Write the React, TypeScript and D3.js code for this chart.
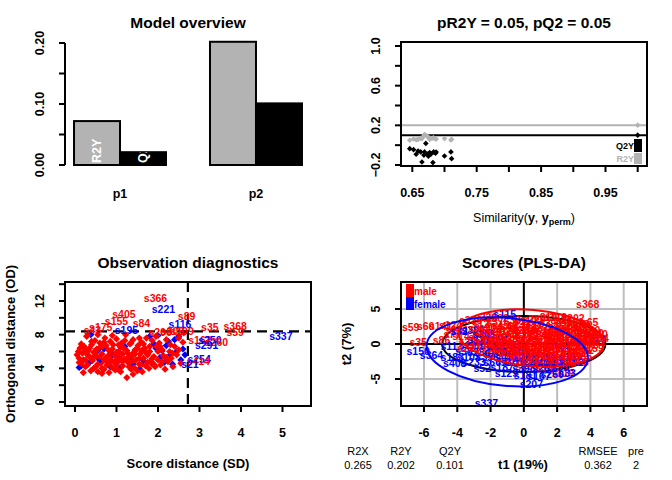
import React from "react";
import * as d3 from "d3";

const FONT = "'Liberation Sans', Arial, Helvetica, sans-serif";
const RED = "#FF0000";
const BLUE = "#0000FF";
const GRAY = "#B3B3B3";
const GRID = "#BEBEBE";

// ---------- Model overview ----------
const components = ["p1", "p2"];
const r2yByComp = [0.072, 0.202];
const q2yByComp = [0.021, 0.101];
const overviewTicks = [0, 0.05, 0.1, 0.15, 0.2];
const overviewLabels = [0, 0.1, 0.2];

// ---------- Permutation test ----------
const permSim = [0.646, 0.652, 0.656, 0.663, 0.671, 0.665, 0.669, 0.674, 0.677, 0.682, 0.683, 0.687, 0.700, 0.710, 0.711, 0.668, 0.679, 0.686, 0.659, 0.675];
const permR2Y = [0.05, 0.062, 0.055, 0.07, 0.1, 0.066, 0.108, 0.084, 0.058, 0.07, 0.075, 0.061, 0.066, 0.052, 0.06, 0.094, 0.07, 0.065, 0.058, 0.08];
const permQ2Y = [-0.035, -0.045, -0.092, -0.068, 0.018, -0.17, -0.068, -0.09, -0.075, -0.176, -0.068, -0.07, -0.109, -0.068, -0.136, -0.1, -0.09, -0.082, -0.06, -0.112];
const modelSim = 1.0;
const modelR2Y = 0.202;
const modelQ2Y = 0.101;
const permTitle = "pR2Y = 0.05, pQ2 = 0.05";
const permXTicks = [0.65, 0.7, 0.75, 0.8, 0.85, 0.9, 0.95, 1.0];
const permXLabels = [0.65, 0.75, 0.85, 0.95];
const permYTicks = [-0.2, 0, 0.2, 0.4, 0.6, 0.8, 1.0];
const permYLabels = [-0.2, 0.2, 0.6, 1.0];

// ---------- Observation diagnostics (SD, OD) ----------
const diagMale: [number, number][] = [
  [0.05, 5.6], [0.08, 6.0], [0.1, 5.2], [0.12, 6.4], [0.15, 4.6], [0.18, 5.8], [0.2, 3.5], [0.22, 6.6], [0.25, 5.0], [0.28, 7.8],
  [0.3, 4.4], [0.32, 6.1], [0.35, 5.4], [0.38, 3.7], [0.4, 6.8], [0.42, 4.9], [0.45, 5.9], [0.48, 7.3], [0.5, 4.2], [0.52, 6.3],
  [0.55, 3.6], [0.57, 5.1], [0.6, 7.0], [0.62, 4.6], [0.65, 5.7], [0.67, 6.6], [0.7, 3.9], [0.72, 7.6], [0.75, 5.3], [0.77, 4.4],
  [0.8, 6.2], [0.82, 3.5], [0.85, 7.2], [0.87, 5.0], [0.9, 4.1], [0.92, 6.8], [0.95, 5.6], [0.97, 3.8], [1.0, 7.5], [1.02, 4.7],
  [1.05, 6.0], [1.07, 5.3], [1.1, 3.6], [1.12, 7.0], [1.15, 4.3], [1.17, 6.4], [1.2, 5.1], [1.22, 8.0], [1.25, 2.9], [1.27, 5.8],
  [1.3, 4.6], [1.32, 6.9], [1.35, 3.9], [1.37, 5.4], [1.4, 7.4], [1.42, 4.1], [1.45, 6.2], [1.47, 5.0], [1.5, 3.7], [1.52, 6.7],
  [1.55, 4.5], [1.57, 5.7], [1.6, 7.1], [1.62, 3.6], [1.65, 5.2], [1.68, 6.4], [1.7, 4.3], [1.72, 7.6], [1.75, 5.6], [1.78, 4.0],
  [1.8, 6.0], [1.83, 4.8], [1.86, 7.3], [1.9, 5.4], [1.93, 4.2], [1.96, 6.6], [2.0, 5.0], [2.03, 7.0], [2.06, 4.4], [2.1, 6.2],
  [2.13, 5.5], [2.17, 3.9], [2.2, 7.4], [2.24, 4.8], [2.28, 6.0], [2.32, 5.2], [2.36, 4.2], [2.4, 6.6], [2.45, 5.6], [2.5, 7.6],
  [2.55, 4.6], [2.6, 7.1], [2.62, 8.2], [0.3, 7.9], [0.55, 8.0], [0.15, 6.9], [0.9, 7.9], [1.4, 3.3], [0.65, 3.4], [1.0, 4.4],
  [0.45, 4.0], [1.15, 5.7], [0.75, 6.7], [1.6, 6.1], [1.25, 4.9], [0.35, 6.4], [0.85, 4.8], [1.95, 7.8], [1.05, 3.8], [0.6, 5.4],
  [0.2, 5.0], [0.25, 6.2], [0.3, 5.6], [0.4, 5.2], [0.5, 6.0], [0.55, 4.5], [0.6, 6.5], [0.7, 5.0], [0.7, 7.1], [0.8, 5.5],
  [0.8, 4.6], [0.9, 6.3], [0.95, 4.7], [1.0, 5.9], [1.05, 6.8], [1.1, 5.0], [1.15, 4.8], [1.2, 7.3], [1.25, 6.1], [1.3, 5.4],
  [1.35, 7.0], [1.4, 4.9], [1.45, 5.7], [1.5, 6.4], [1.55, 5.2], [1.6, 4.4], [1.65, 6.9], [1.7, 5.9], [1.75, 4.7], [1.8, 6.6],
  [1.85, 5.1], [1.9, 4.5], [2.0, 6.0], [2.05, 6.6], [2.1, 4.8], [2.2, 5.3], [2.3, 6.8], [2.35, 5.8], [2.5, 6.2], [0.1, 4.7],
  [0.4, 7.2], [0.65, 4.0], [0.85, 6.0], [1.1, 6.5], [1.3, 4.2], [1.55, 7.6], [0.25, 4.2], [0.5, 5.5], [1.0, 5.3], [1.4, 5.8],
];
const diagFemale: [number, number][] = [
  [0.1, 4.1], [0.15, 4.3], [0.35, 4.7], [0.38, 8.0], [0.45, 5.3], [0.55, 6.1], [0.7, 6.3], [0.75, 4.9], [0.85, 4.2], [0.9, 5.6],
  [1.0, 4.9], [1.05, 6.0], [1.1, 4.1], [1.2, 6.6], [1.3, 5.1], [1.4, 4.5], [1.45, 6.1], [1.55, 3.9], [1.65, 4.9], [1.75, 5.8],
  [1.8, 7.8], [1.85, 4.6], [1.95, 6.4], [2.0, 7.9], [2.05, 5.3], [2.15, 4.7], [2.2, 6.7], [2.25, 7.2], [2.3, 5.6], [2.35, 4.5],
  [2.4, 7.4], [2.45, 6.0], [2.5, 7.8], [2.55, 5.0], [2.6, 6.3], [2.65, 5.6], [1.9, 6.9], [0.6, 5.0], [2.1, 6.1],
];
const diagLabels: [string, number, number, string][] = [
  ["s366", 1.94, 12.4, "m"], ["s221", 2.13, 11.1, "f"], ["s405", 1.18, 10.45, "m"], ["s155", 1.0, 9.65, "m"],
  ["s84", 1.6, 9.35, "m"], ["s89", 2.69, 10.25, "m"], ["s116", 2.53, 9.26, "f"], ["s195", 1.24, 8.55, "f"],
  ["s43", 0.42, 8.6, "m"], ["s175", 0.62, 8.9, "m"], ["s206", 2.05, 8.3, "m"], ["s309", 2.35, 8.45, "m"],
  ["s109", 2.58, 8.4, "m"], ["s35", 3.25, 8.87, "m"], ["s368", 3.86, 9.0, "m"], ["s59", 3.86, 8.35, "m"],
  ["s337", 4.96, 7.9, "f"], ["s162", 3.01, 7.36, "m"], ["s250", 3.25, 7.36, "f"], ["s260", 3.41, 7.09, "m"],
  ["s291", 3.17, 6.77, "f"], ["s254", 2.99, 5.1, "f"], ["s414", 2.97, 4.86, "m"], ["s21", 2.77, 4.5, "f"],
];
const sdCutoff = 2.72;
const odCutoff = 8.4;
const sdTicks = [0, 1, 2, 3, 4, 5];
const odTicks = [0, 2, 4, 6, 8, 10, 12, 14];
const odLabels = [0, 4, 8, 12];

// ---------- Scores (PLS-DA) ----------
const maleScores: [string, number, number][] = [
  ["s368", 3.84, 5.7], ["s59", -6.8, 2.4], ["s60", -5.9, 2.55], ["s141", -5.0, 2.6], ["s124", -4.4, 2.7], ["s35", -6.35, 0.25],
  ["s86", -4.95, 0.6], ["s202", 2.95, 3.65], ["s65", 3.95, 3.2], ["s240", 4.35, 1.4],
  ["s329", -3.2, 3.5], ["s226", -2.3, 3.8], ["s302", -1.6, 3.7], ["s38", -0.7, 3.4], ["s229", 0.6, 3.6], ["s219", 1.3, 3.9],
  ["s319", 1.9, 3.85], ["s96", 2.4, 3.4], ["s70", 3.4, 2.9], ["s101", -4.0, 2.0], ["s147", -3.6, 1.1], ["s77", -4.3, 1.4],
  ["s12", -2.6, 2.85], ["s45", -1.4, 2.7], ["s231", -0.3, 2.9], ["s17", 0.6, 2.75], ["s390", 1.6, 2.95], ["s266", 2.6, 2.7], ["s53", 3.5, 2.6],
  ["s8", -3.0, 2.25], ["s211", -2.0, 2.1], ["s98", -0.9, 2.3], ["s156", 0.2, 2.15], ["s273", 1.1, 2.3], ["s31", 2.0, 2.05], ["s344", 3.0, 2.2], ["s180", 3.9, 2.0],
  ["s67", -2.4, 1.55], ["s303", -1.5, 1.7], ["s122", -0.5, 1.5], ["s6", 0.5, 1.65], ["s259", 1.4, 1.55], ["s88", 2.3, 1.7], ["s371", 3.2, 1.5], ["s140", 4.1, 1.6],
  ["s25", -2.8, 1.0], ["s190", -1.9, 0.9], ["s314", -1.0, 1.05], ["s72", 0.0, 0.95], ["s235", 0.9, 1.1], ["s48", 1.8, 0.9], ["s397", 2.7, 1.0], ["s113", 3.6, 1.05], ["s284", 4.4, 0.85],
  ["s160", -2.2, 0.45], ["s9", -1.3, 0.35], ["s278", -0.3, 0.5], ["s55", 0.6, 0.3], ["s212", 1.5, 0.45], ["s336", 2.4, 0.35], ["s94", 3.3, 0.5], ["s402", 4.2, 0.3],
  ["s137", -2.6, -0.15], ["s41", -1.7, -0.25], ["s255", -0.8, -0.1], ["s19", 0.2, -0.3], ["s383", 1.1, -0.15], ["s63", 2.0, -0.25], ["s298", 2.9, -0.1], ["s170", 3.8, -0.2],
  ["s29", -2.0, -0.85], ["s348", -1.1, -0.75], ["s105", -0.1, -0.9], ["s214", 0.8, -0.7], ["s57", 1.7, -0.85], ["s392", 2.6, -0.75], ["s132", 3.5, -0.9],
  ["s244", -1.6, -1.35], ["s81", -0.6, -1.5], ["s326", 0.4, -1.4], ["s15", 1.3, -1.3], ["s199", 2.2, -1.45], ["s361", 3.1, -1.35],
  ["s74", -1.0, -2.05], ["s287", 0.0, -1.95], ["s143", 1.0, -2.1], ["s50", 1.9, -2.0], ["s309", 2.8, -1.9],
  ["s118", -0.5, -2.6], ["s246", 0.5, -2.7], ["s36", 1.4, -2.55], ["s377", 2.4, -2.65], ["s165", 3.2, -2.5],
  ["s209", 0.2, -3.2], ["s91", 1.2, -3.3], ["s119", 2.35, -4.2], ["s270", 2.1, -3.15],
  ["s3", -1.9, 3.2], ["s110", 0.1, 3.3], ["s350", 2.9, 3.2], ["s27", -3.4, 0.3], ["s223", -3.3, -0.5],
  ["s204", -2.0, 2.5], ["s46", -0.9, 2.55], ["s313", 0.1, 2.45], ["s78", 1.1, 2.5], ["s252", 2.1, 2.55], ["s389", 3.1, 2.45],
  ["s2", -2.7, 1.9], ["s134", -1.0, 1.85], ["s281", 0.0, 1.95], ["s61", 0.9, 1.9], ["s197", 1.9, 1.85], ["s340", 2.8, 1.95], ["s93", 3.7, 1.9],
  ["s217", -2.0, 1.3], ["s54", -0.9, 1.25], ["s372", 0.2, 1.35], ["s148", 1.0, 1.3], ["s23", 1.9, 1.25], ["s305", 2.8, 1.35], ["s158", 3.8, 1.3],
  ["s83", -1.7, 0.7], ["s262", -0.7, 0.65], ["s39", 0.3, 0.75], ["s186", 1.2, 0.7], ["s327", 2.1, 0.65], ["s107", 3.0, 0.75], ["s241", 3.9, 0.7],
  ["s16", -1.9, 0.1], ["s293", -0.9, 0.05], ["s125", 0.1, 0.15], ["s68", 1.0, 0.1], ["s357", 1.9, 0.05], ["s176", 2.8, 0.15], ["s44", 3.6, 0.1],
  ["s239", -1.3, -0.5], ["s97", -0.3, -0.55], ["s318", 0.6, -0.45], ["s142", 1.5, -0.5], ["s26", 2.4, -0.55], ["s271", 3.3, -0.45], ["s159", 4.1, -0.5],
  ["s85", -0.9, -1.1], ["s330", 0.1, -1.15], ["s111", 1.0, -1.05], ["s51", 1.9, -1.1], ["s296", 2.9, -1.15],
  ["s171", -0.2, -1.7], ["s37", 0.8, -1.75], ["s264", 1.7, -1.65], ["s102", 2.6, -1.7], ["s385", 3.4, -1.75],
  ["s64", 0.3, -2.3], ["s228", 1.3, -2.35], ["s146", 2.2, -2.25], ["s7", 3.0, -2.3],
];
const femaleScores: [string, number, number][] = [
  ["s150", -6.35, -0.95], ["s364", -5.55, -1.55], ["s337", -2.25, -8.4], ["s207", 0.45, -5.7], ["s240", 4.25, 0.75],
  ["s115", -1.15, 4.3], ["s129", -1.05, -4.2], ["s408", -4.15, -2.7], ["s380", -3.05, 2.0], ["s32", -3.9, 1.8],
  ["s183", -4.3, -1.8], ["s11", -4.5, -0.3], ["s58", -3.6, -1.0], ["s365", -2.4, 1.45], ["s175", -1.6, 0.6], ["s221", -2.7, 0.7],
  ["s195", -3.2, -0.2], ["s42", -2.1, -0.35], ["s316", -1.2, -0.15], ["s71", -0.3, -0.5],
  ["s254", -2.7, -1.1], ["s130", -1.7, -1.2], ["s286", -0.7, -1.05], ["s24", 0.5, -1.3], ["s21", 2.3, -0.2],
  ["s103", -3.3, -1.8], ["s356", -2.2, -1.9], ["s47", -1.2, -1.85], ["s168", 0.1, -1.8], ["s291", 1.3, -1.9], ["s75", 2.6, -1.8],
  ["s233", -3.0, -2.6], ["s66", -1.9, -2.6], ["s301", -0.7, -2.55], ["s250", 0.6, -2.65], ["s14", 1.8, -2.6], ["s342", 2.9, -2.5],
  ["s52", -2.5, -3.4], ["s187", -1.3, -3.35], ["s398", 0.0, -3.45], ["s261", 1.2, -3.4], ["s99", 2.2, -3.35],
  ["s181", 0.1, -4.45], ["s167", 0.9, -4.5], ["s260", 1.7, -4.3], ["s33", 2.6, -4.1],
];
const ellipses: { name: string; cx: number; cy: number; rx: number; ry: number; angle: number; color: string }[] = [
  { name: "all", cx: 0, cy: 0, rx: 4.9, ry: 4.0, angle: 0, color: "#000000" },
  { name: "male", cx: 0.44, cy: 0.86, rx: 4.38, ry: 4.0, angle: 5, color: RED },
  { name: "female", cx: -1.0, cy: -1.14, rx: 4.86, ry: 4.85, angle: 5, color: BLUE },
];
const scoreXTicks = [-6, -4, -2, 0, 2, 4, 6];
const scoreYTicks = [-5, 0, 5];
const classNames = ["male", "female"];
const summaryNames = ["R2X", "R2Y", "Q2Y", "RMSEE", "pre"];
const summaryValues = ["0.265", "0.202", "0.101", "0.362", "2"];

const diamond = (r: number) => `M0,${-r}L${r},0L0,${r}L${-r},0Z`;
const fmt2 = d3.format(".2f");
const fmt1 = d3.format(".1f");

export default function App() {
  const p1x = d3.scaleBand<string>().domain(components).range([52, 324]).paddingInner(0.3235).paddingOuter(0.162);
  const p1y = d3.scaleLinear().domain([0, 0.2]).range([165, 43]);
  const bw = p1x.bandwidth() / 2;

  const B2 = { l: 401, r: 647, t: 42, b: 166 };
  const p2x = d3.scaleLinear().domain([0.65, 1.0]).range([412.3, 637.7]);
  const p2y = d3.scaleLinear().domain([-0.2, 1.0]).range([165, 46]);

  const B3 = { l: 65, r: 311, t: 282, b: 406 };
  const p3x = d3.scaleLinear().domain([0, 5]).range([75, 282.5]);
  const p3y = d3.scaleLinear().domain([0, 12]).range([402, 301]);

  const B4 = { l: 401, r: 647, t: 282, b: 406 };
  const p4x = d3.scaleLinear().domain([-6, 6]).range([424, 623.7]);
  const p4y = d3.scaleLinear().domain([-5, 5]).range([379, 309]);

  const mixedDiag: { p: [number, number]; c: string }[] = [];
  const n = Math.max(diagMale.length, diagFemale.length);
  for (let i = 0; i < n; i++) {
    if (i < diagFemale.length) mixedDiag.push({ p: diagFemale[i], c: BLUE });
    if (i < diagMale.length) mixedDiag.push({ p: diagMale[i], c: RED });
  }
  const mixedScores: { s: [string, number, number]; c: string }[] = [];
  const nf = femaleScores.length;
  const nm = maleScores.length;
  const stepM = nm / nf;
  let mi = 0;
  for (let i = 0; i < nf; i++) {
    mixedScores.push({ s: femaleScores[i], c: BLUE });
    const end = Math.round((i + 1) * stepM);
    for (; mi < end && mi < nm; mi++) mixedScores.push({ s: maleScores[mi], c: RED });
  }
  for (; mi < nm; mi++) mixedScores.push({ s: maleScores[mi], c: RED });

  const titleStyle = { fontFamily: FONT, fontWeight: "bold" as const, fontSize: 15.5 };
  const tickStyle = { fontFamily: FONT, fontWeight: "bold" as const, fontSize: 12.5 };
  const labStyle = { fontFamily: FONT, fontWeight: "bold" as const, fontSize: 13 };

  const Box = ({ b }: { b: { l: number; r: number; t: number; b: number } }) => (
    <rect x={b.l} y={b.t} width={b.r - b.l} height={b.b - b.t} fill="none" stroke="#000" strokeWidth={2} />
  );

  return (
    <svg width={672} height={480} style={{ position: "absolute", left: 0, top: 0, background: "#fff" }}>
      <rect x={0} y={0} width={672} height={480} fill="#fff" />
      <defs>
        {components.map((c, i) => (
          <React.Fragment key={c}>
            <clipPath id={`clipR${i}`}>
              <rect x={p1x(c)!} y={p1y(r2yByComp[i])} width={bw} height={p1y(0) - p1y(r2yByComp[i])} />
            </clipPath>
            <clipPath id={`clipQ${i}`}>
              <rect x={p1x(c)! + bw} y={p1y(q2yByComp[i])} width={bw} height={p1y(0) - p1y(q2yByComp[i])} />
            </clipPath>
          </React.Fragment>
        ))}
      </defs>

      {/* Panel 1: Model overview */}
      <text x={188} y={27.5} textAnchor="middle" style={titleStyle}>Model overview</text>
      <line x1={65} x2={65} y1={p1y(0.2)} y2={p1y(0)} stroke="#000" strokeWidth={2} />
      {overviewTicks.map((t) => (
        <line key={t} x1={59} x2={65} y1={p1y(t)} y2={p1y(t)} stroke="#000" strokeWidth={2} />
      ))}
      {overviewLabels.map((t) => (
        <text key={t} transform={`translate(40,${p1y(t)}) rotate(-90)`} textAnchor="middle" dominantBaseline="central" style={tickStyle}>
          {fmt2(t)}
        </text>
      ))}
      {components.map((c, i) => (
        <g key={c}>
          <rect x={p1x(c)!} y={p1y(r2yByComp[i])} width={bw} height={p1y(0) - p1y(r2yByComp[i])} fill={GRAY} stroke="#000" strokeWidth={2} />
          <rect x={p1x(c)! + bw} y={p1y(q2yByComp[i])} width={bw} height={p1y(0) - p1y(q2yByComp[i])} fill="#000" stroke="#000" strokeWidth={2} />
          <text x={p1x(c)! + bw} y={197.5} textAnchor="middle" style={tickStyle}>{c}</text>
          {i === 0 && (
            <>
              <g clipPath={`url(#clipR${i})`}>
                <text transform={`translate(${p1x(c)! + bw / 2},${p1y(0) - 2}) rotate(-90)`} textAnchor="start" dominantBaseline="central" fill="#fff" style={tickStyle}>R2Y</text>
              </g>
              <g clipPath={`url(#clipQ${i})`}>
                <text transform={`translate(${p1x(c)! + bw * 1.5},${p1y(0) - 2}) rotate(-90)`} textAnchor="start" dominantBaseline="central" fill="#fff" style={tickStyle}>Q2Y</text>
              </g>
            </>
          )}
        </g>
      ))}

      {/* Panel 2: permutation */}
      <text x={524} y={27.5} textAnchor="middle" style={titleStyle}>{permTitle}</text>
      <line x1={B2.l} x2={B2.r} y1={p2y(modelR2Y)} y2={p2y(modelR2Y)} stroke={GRAY} strokeWidth={2} />
      <line x1={B2.l} x2={B2.r} y1={p2y(modelQ2Y)} y2={p2y(modelQ2Y)} stroke="#000" strokeWidth={2} />
      {permSim.map((s, i) => (
        <path key={`r${i}`} d={diamond(2.8)} transform={`translate(${p2x(s)},${p2y(permR2Y[i])})`} fill={GRAY} />
      ))}
      {permSim.map((s, i) => (
        <path key={`q${i}`} d={diamond(2.8)} transform={`translate(${p2x(s)},${p2y(permQ2Y[i])})`} fill="#000" />
      ))}
      <path d={diamond(2.8)} transform={`translate(${p2x(modelSim)},${p2y(modelR2Y)})`} fill={GRAY} />
      <path d={diamond(2.8)} transform={`translate(${p2x(modelSim)},${p2y(modelQ2Y)})`} fill="#000" />
      <rect x={634} y={139} width={8} height={13} fill="#000" />
      <rect x={634} y={153} width={8} height={11} fill={GRAY} />
      <text x={634} y={146} textAnchor="end" dominantBaseline="central" style={{ fontFamily: FONT, fontWeight: "bold", fontSize: 9 }} fill="#000">Q2Y</text>
      <text x={634} y={159} textAnchor="end" dominantBaseline="central" style={{ fontFamily: FONT, fontWeight: "bold", fontSize: 9 }} fill={GRAY}>R2Y</text>
      <Box b={B2} />
      {permXTicks.map((t) => (
        <line key={t} x1={p2x(t)} x2={p2x(t)} y1={B2.b} y2={B2.b + 6} stroke="#000" strokeWidth={2} />
      ))}
      {permXLabels.map((t) => (
        <text key={t} x={p2x(t)} y={196.5} textAnchor="middle" style={tickStyle}>{fmt2(t)}</text>
      ))}
      {permYTicks.map((t) => (
        <line key={t} x1={B2.l - 6} x2={B2.l} y1={p2y(t)} y2={p2y(t)} stroke="#000" strokeWidth={2} />
      ))}
      {permYLabels.map((t) => (
        <text key={t} transform={`translate(376,${p2y(t)}) rotate(-90)`} textAnchor="middle" dominantBaseline="central" style={tickStyle}>{fmt1(t)}</text>
      ))}
      <text x={524} y={222} textAnchor="middle" style={{ fontFamily: FONT, fontSize: 12.5 }}>
        Similarity(<tspan fontWeight="bold">y</tspan>, <tspan fontWeight="bold">y</tspan>
        <tspan fontWeight="bold" fontSize={9} dy={3}>perm</tspan>
        <tspan dy={-3}>)</tspan>
      </text>

      {/* Panel 3: diagnostics */}
      <text x={188} y={267.5} textAnchor="middle" style={titleStyle}>Observation diagnostics</text>
      {mixedDiag.map((d, i) => (
        <path key={i} d={diamond(3.6)} transform={`translate(${p3x(d.p[0])},${p3y(d.p[1])})`} fill={d.c} />
      ))}
      <line x1={p3x(sdCutoff)} x2={p3x(sdCutoff)} y1={B3.t} y2={B3.b} stroke="#000" strokeWidth={2.2} strokeDasharray="10,6" />
      <line x1={B3.l} x2={B3.r} y1={p3y(odCutoff)} y2={p3y(odCutoff)} stroke="#000" strokeWidth={2.2} strokeDasharray="10,6" />
      {diagLabels.map(([nm2, x, y, c], i) => (
        <text key={i} x={p3x(x)} y={p3y(y)} textAnchor="middle" dominantBaseline="central" fill={c === "m" ? RED : BLUE} style={{ fontFamily: FONT, fontWeight: "bold", fontSize: 10.5 }}>{nm2}</text>
      ))}
      <Box b={B3} />
      {sdTicks.map((t) => (
        <line key={t} x1={p3x(t)} x2={p3x(t)} y1={B3.b} y2={B3.b + 6} stroke="#000" strokeWidth={2} />
      ))}
      {sdTicks.map((t) => (
        <text key={t} x={p3x(t)} y={437} textAnchor="middle" style={tickStyle}>{t}</text>
      ))}
      {odTicks.map((t) => (
        <line key={t} x1={B3.l - 6} x2={B3.l} y1={p3y(t)} y2={p3y(t)} stroke="#000" strokeWidth={2} />
      ))}
      {odLabels.map((t) => (
        <text key={t} transform={`translate(40,${p3y(t)}) rotate(-90)`} textAnchor="middle" dominantBaseline="central" style={tickStyle}>{t}</text>
      ))}
      <text x={188} y={467.5} textAnchor="middle" style={labStyle}>Score distance (SD)</text>
      <text transform={`translate(10,344) rotate(-90)`} textAnchor="middle" dominantBaseline="central" style={labStyle}>Orthogonal distance (OD)</text>

      {/* Panel 4: scores */}
      <text x={524} y={267.5} textAnchor="middle" style={titleStyle}>Scores (PLS-DA)</text>
      {scoreXTicks.filter((t) => t !== 0).map((t) => (
        <line key={`gx${t}`} x1={p4x(t)} x2={p4x(t)} y1={B4.t} y2={B4.b} stroke={GRID} strokeWidth={2} />
      ))}
      {scoreYTicks.filter((t) => t !== 0).map((t) => (
        <line key={`gy${t}`} x1={B4.l} x2={B4.r} y1={p4y(t)} y2={p4y(t)} stroke={GRID} strokeWidth={2} />
      ))}
      <line x1={p4x(0)} x2={p4x(0)} y1={B4.t} y2={B4.b} stroke="#000" strokeWidth={2} />
      <line x1={B4.l} x2={B4.r} y1={p4y(0)} y2={p4y(0)} stroke="#000" strokeWidth={2} />
      {ellipses.filter((e) => e.name === "all").map((e) => (
        <ellipse key={e.name} cx={0} cy={0} rx={e.rx * (p4x(1) - p4x(0))} ry={e.ry * (p4y(0) - p4y(1))}
          transform={`translate(${p4x(e.cx)},${p4y(e.cy)}) rotate(${e.angle})`} fill="none" stroke={e.color} strokeWidth={2} />
      ))}
      {mixedScores.map(({ s: [nm2, x, y], c }, i) => (
        <text key={`s${i}`} x={p4x(x)} y={p4y(y)} textAnchor="middle" dominantBaseline="central" fill={c} style={{ fontFamily: FONT, fontWeight: "bold", fontSize: 10.5 }}>{nm2}</text>
      ))}
      {ellipses.filter((e) => e.name !== "all").map((e) => (
        <ellipse key={e.name} cx={0} cy={0} rx={e.rx * (p4x(1) - p4x(0))} ry={e.ry * (p4y(0) - p4y(1))}
          transform={`translate(${p4x(e.cx)},${p4y(e.cy)}) rotate(${e.angle})`} fill="none" stroke={e.color} strokeWidth={2} />
      ))}
      {classNames.map((c, i) => (
        <g key={c}>
          <rect x={406} y={284 + i * 13} width={8} height={13} fill={i === 0 ? RED : BLUE} />
          <text x={414} y={291 + i * 13} dominantBaseline="central" fill={i === 0 ? RED : BLUE} style={{ fontFamily: FONT, fontWeight: "bold", fontSize: 10 }}>{c}</text>
        </g>
      ))}
      <Box b={B4} />
      {scoreXTicks.map((t) => (
        <line key={t} x1={p4x(t)} x2={p4x(t)} y1={B4.b} y2={B4.b + 6} stroke="#000" strokeWidth={2} />
      ))}
      {scoreXTicks.map((t) => (
        <text key={t} x={p4x(t)} y={437} textAnchor="middle" style={tickStyle}>{t}</text>
      ))}
      {scoreYTicks.map((t) => (
        <line key={t} x1={B4.l - 6} x2={B4.l} y1={p4y(t)} y2={p4y(t)} stroke="#000" strokeWidth={2} />
      ))}
      {scoreYTicks.map((t) => (
        <text key={t} transform={`translate(376,${p4y(t)}) rotate(-90)`} textAnchor="middle" dominantBaseline="central" style={tickStyle}>{t}</text>
      ))}
      <text transform={`translate(346,344) rotate(-90)`} textAnchor="middle" dominantBaseline="central" style={labStyle}>t2 (7%)</text>
      <text x={523} y={468.5} textAnchor="middle" style={labStyle}>t1 (19%)</text>
      {summaryNames.map((nm2, i) => {
        const xs = [358, 401, 450, 598, 636];
        return (
          <g key={nm2}>
            <text x={xs[i]} y={455} textAnchor="middle" style={{ fontFamily: FONT, fontSize: 11 }}>{nm2}</text>
            <text x={xs[i]} y={468.5} textAnchor="middle" style={{ fontFamily: FONT, fontSize: 11 }}>{summaryValues[i]}</text>
          </g>
        );
      })}
    </svg>
  );
}
